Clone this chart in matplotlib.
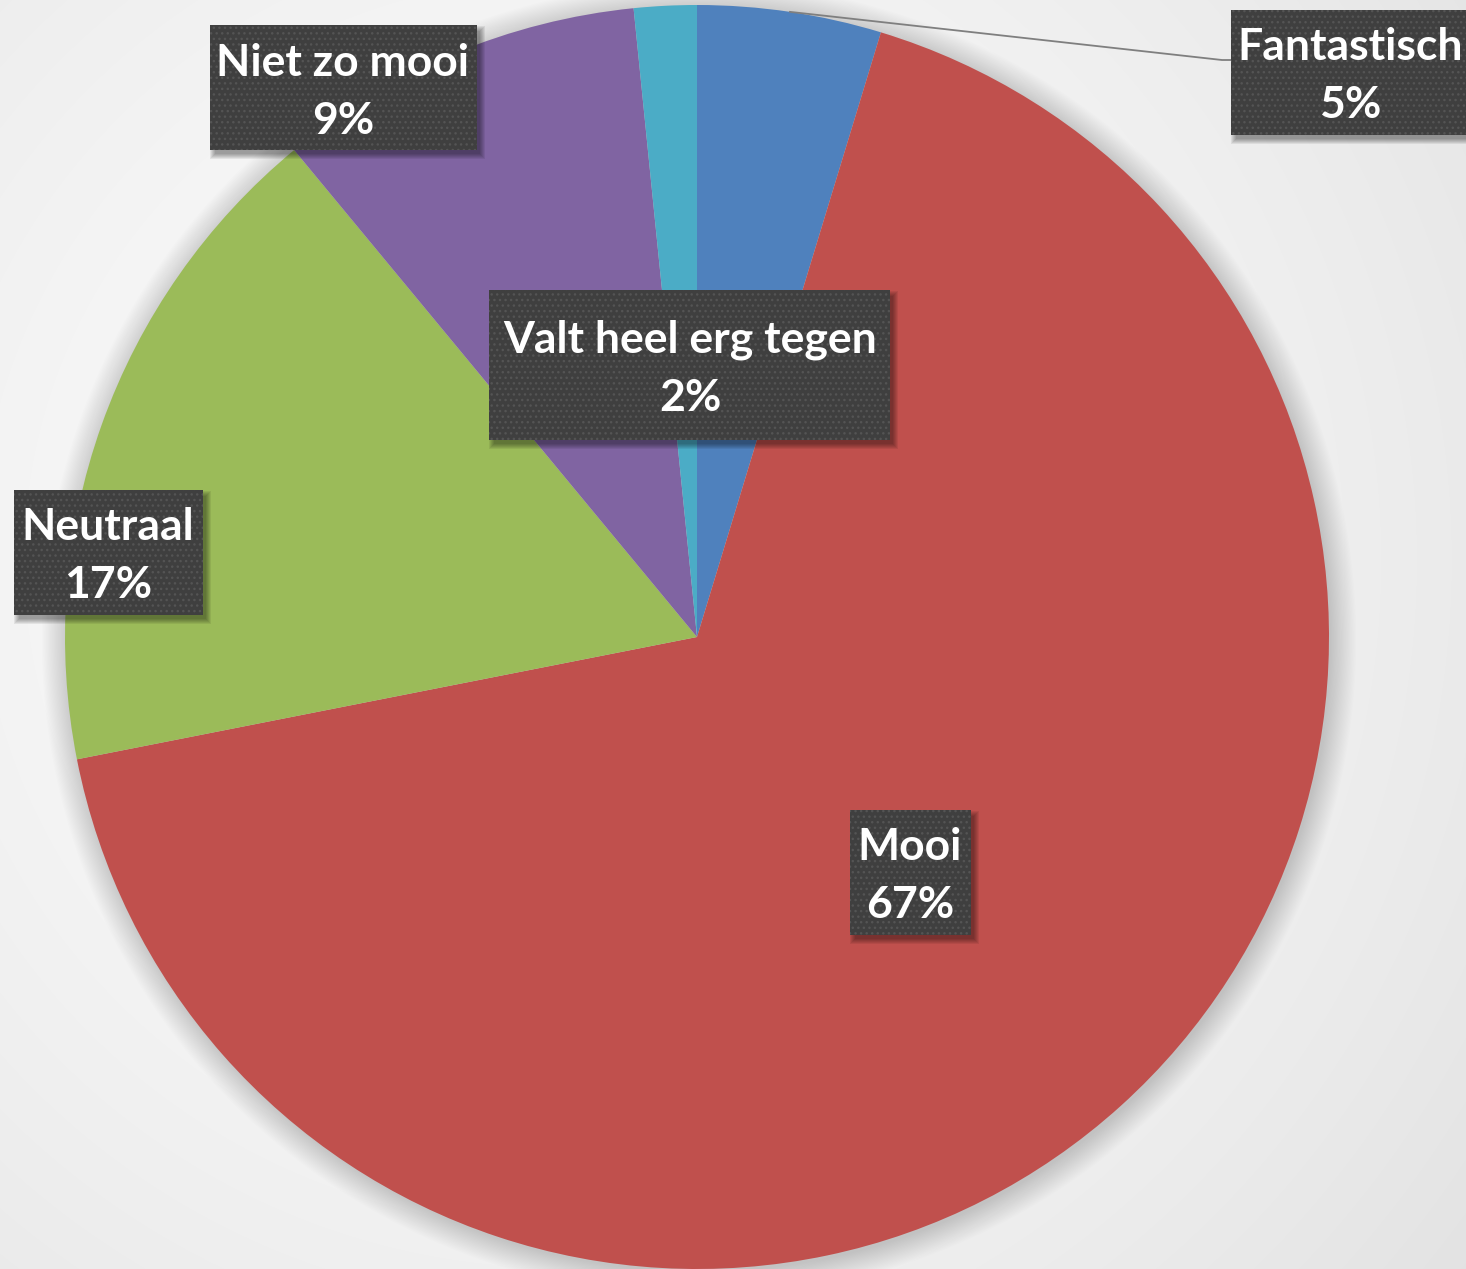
import matplotlib.pyplot as plt
import numpy as np
from matplotlib.patches import Rectangle, Circle

# Data
labels = ['Fantastisch', 'Mooi', 'Neutraal', 'Niet zo mooi', 'Valt heel erg tegen']
values = [4.7, 67.2, 17.1, 9.4, 1.6]
pct_text = ['5%', '67%', '17%', '9%', '2%']
colors = ['#4F81BD', '#C0504D', '#9BBB59', '#8064A2', '#4BACC6']

W, H = 1466, 1269
fig = plt.figure(figsize=(W / 100, H / 100), dpi=100)

# Background: soft radial gradient
bg = fig.add_axes([0, 0, 1, 1])
yy, xx = np.mgrid[0:H, 0:W]
r = np.hypot(xx - 560, yy - 560) / np.hypot(W, H)
shade = np.clip(0.985 - 0.22 * r ** 1.6, 0, 1)
bg.imshow(np.dstack([shade] * 3), extent=[0, W, 0, H], origin='upper', aspect='auto')
bg.axis('off')

ax = fig.add_axes([0, 0, 1, 1])
ax.set_facecolor('none')
cx, cy, R = 697, H - 637, 632

# soft shadow around the pie
for i in range(22):
    ax.add_patch(Circle((cx + 2, cy - 3), R + i * 1.2, color='black', alpha=0.008, lw=0, zorder=0))

wedges, _ = ax.pie(values, colors=colors, startangle=90, counterclock=False,
                   center=(cx, cy), radius=R, wedgeprops=dict(linewidth=0))
for w in wedges:
    w.set_zorder(1)

ax.set_xlim(0, W)
ax.set_ylim(0, H)
ax.set_aspect('auto')
ax.axis('off')

# leader line for Fantastisch
w0 = wedges[0]
mid = np.deg2rad((w0.theta1 + w0.theta2) / 2)
sx, sy = cx + R * np.cos(mid), cy + R * np.sin(mid)
ax.plot([sx, 1222, 1231], [sy, H - 60, H - 60], color='#7f7f7f', lw=1.3, zorder=2)

# label boxes: (x0, y0_top, x1, y1_bottom) in pixels, text centre x
boxes = [
    (1231, 10, 1480, 135, 1350),
    (850, 810, 971, 935, 910),
    (14, 490, 203, 615, 108),
    (210, 25, 477, 150, 343),
    (489, 290, 890, 440, 690),
]

for lab, pct, (x0, t, x1, b, tx) in zip(labels, pct_text, boxes):
    w, h = x1 - x0, b - t
    for k in range(6):
        ax.add_patch(Rectangle((x0 + 4 - k + 1, H - b - 5 - k + 1), w + 2 * k - 2, h + 2 * k - 2,
                               fc='black', alpha=0.07, lw=0, zorder=3))
    ax.add_patch(Rectangle((x0, H - b), w, h, fc='#3f3f3f', lw=0, zorder=4))
    ax.add_patch(Rectangle((x0, H - b), w, h, fc='none', ec='#545454', hatch='...', lw=0, zorder=4))
    ymid = H - (t + b) / 2
    ax.text(tx, ymid + 25, lab, ha='center', va='center', color='white',
            fontsize=32, fontweight='bold', family='Lato', zorder=5)
    ax.text(tx, ymid - 33, pct, ha='center', va='center', color='white',
            fontsize=32, fontweight='bold', family='Lato', zorder=5)

plt.savefig('out.png', dpi=100)
